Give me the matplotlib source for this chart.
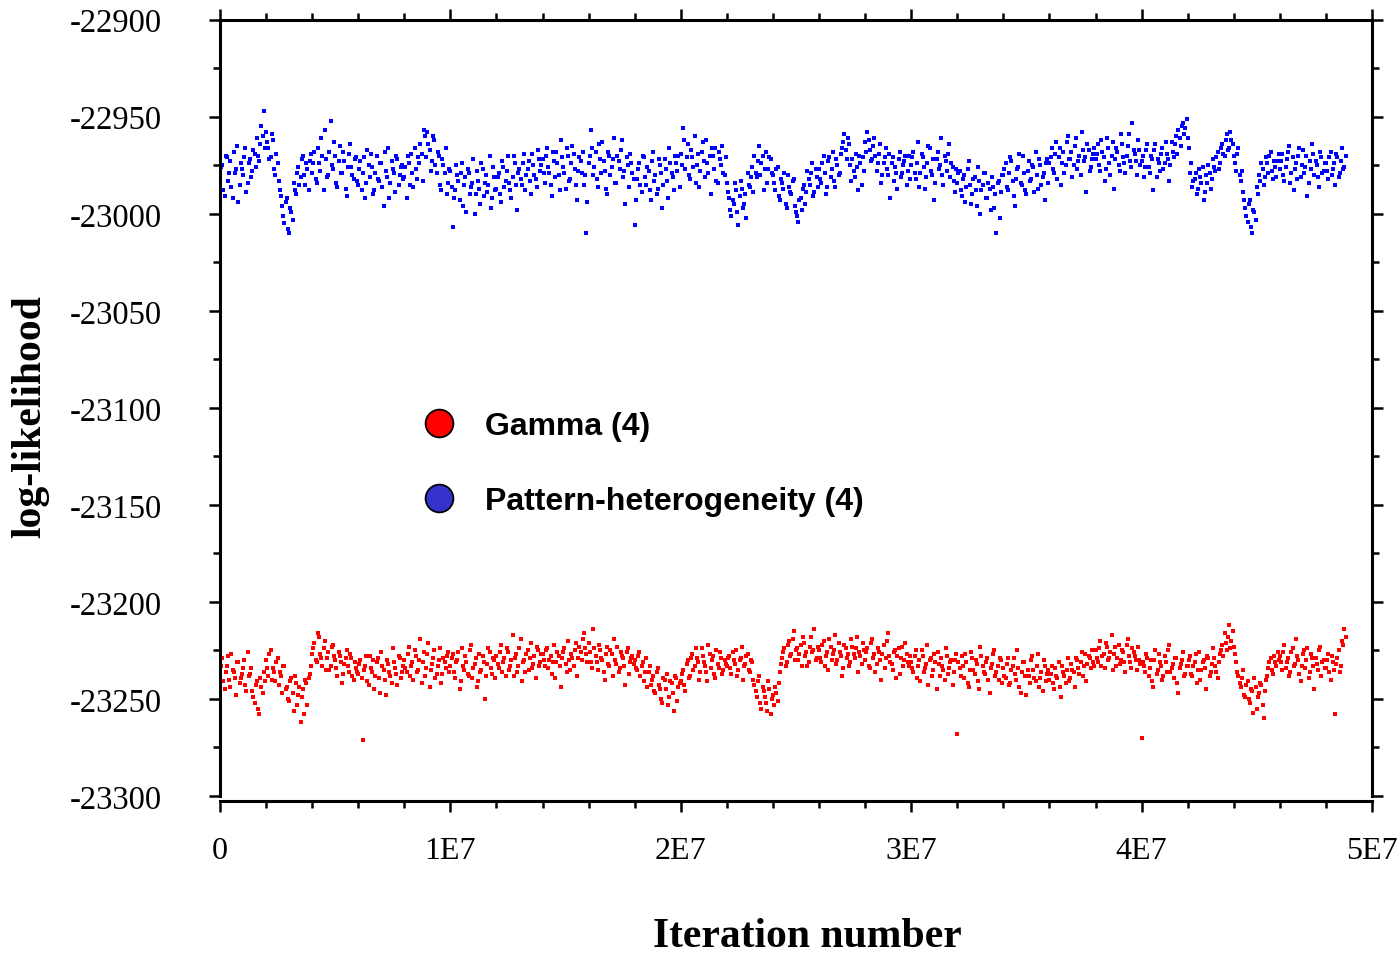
import numpy as np
import matplotlib.pyplot as plt
from matplotlib.lines import Line2D
from matplotlib.ticker import MultipleLocator

# two interleaved sets of samples, each every 1E5 iterations (set b shifted by 5E4),
# values
sample_step = 1e5

# Pattern-heterogeneity (4): distance below -22900
pattern_off_a = [
    82, 75, 91, 71, 79, 86, 68, 77, 94, 74, 80, 66, 84, 72, 78, 69, 61, 73, 55, 47,
    58, 66, 71, 62, 80, 74, 88, 96, 105, 92, 110, 99, 84, 90, 76, 81, 70, 85, 77, 73,
    79, 68, 84, 74, 61, 88, 72, 80, 52, 77, 70, 86, 65, 79, 73, 91, 69, 76, 82, 71,
    85, 73, 79, 92, 67, 81, 76, 88, 70, 83, 74, 96, 78, 66, 84, 77, 89, 72, 80, 75,
    81, 92, 74, 69, 86, 77, 71, 64, 83, 60, 58, 67, 73, 62, 79, 70, 88, 75, 66, 84,
    78, 107, 88, 80, 93, 74, 85, 99, 79, 86, 72, 90, 83, 95, 77, 84, 89, 70, 92, 81,
    87, 79, 94, 76, 83, 70, 88, 81, 74, 98, 77, 85, 69, 80, 73, 90, 75, 82, 67, 78,
    72, 84, 66, 79, 91, 73, 68, 80, 62, 76, 87, 70, 82, 65, 77, 93, 71, 79, 85, 110,
    74, 57, 80, 68, 86, 72, 63, 78, 90, 70, 76, 61, 84, 73, 67, 81, 95, 75, 69, 79,
    106, 82, 74, 89, 71, 85, 78, 93, 68, 80, 87, 75, 97, 72, 83, 66, 79, 88, 74, 70,
    69, 56, 77, 64, 82, 71, 60, 75, 86, 68, 73, 62, 79, 90, 70, 66, 84, 72, 65, 80,
    84, 92, 101, 95, 88, 106, 83, 97, 90, 79, 86, 76, 70, 81, 65, 74, 88, 68, 77, 72,
    80, 88, 76, 93, 84, 79, 97, 86, 90, 82, 99, 104, 92, 87, 95, 78, 85, 74, 89, 81,
    77, 84, 70, 90, 73, 81, 68, 86, 75, 79, 66, 59, 72, 64, 83, 78, 69, 88, 74, 71,
    63, 58, 67, 72, 61, 78, 69, 84, 74, 66, 80, 92, 71, 76, 87, 68, 79, 73, 85, 70,
    75, 68, 82, 63, 79, 71, 87, 74, 66, 80, 93, 72, 77, 61, 85, 73, 69, 81, 76, 89,
    84, 78, 91, 80, 86, 73, 95, 82, 88, 76, 100, 85, 79, 92, 87, 81, 97, 110, 83, 89,
    80, 74, 88, 71, 83, 96, 77, 69, 85, 79, 90, 73, 82, 76, 68, 87, 75, 81, 93, 72,
    74, 66, 79, 63, 71, 85, 68, 75, 60, 72, 81, 65, 77, 70, 58, 73, 89, 67, 76, 69,
    72, 64, 78, 68, 83, 61, 74, 70, 87, 66, 75, 59, 71, 79, 65, 73, 53, 69, 80, 67,
    73, 81, 67, 76, 70, 88, 64, 72, 78, 66, 74, 69, 83, 63, 71, 60, 57, 65, 53, 56,
    61, 79, 86, 82, 90, 77, 84, 93, 80, 75, 87, 72, 78, 68, 74, 64, 70, 59, 66, 62,
    70, 78, 66, 83, 89, 97, 104, 93, 110, 99, 86, 80, 74, 85, 71, 79, 68, 82, 76, 73,
    77, 69, 83, 72, 65, 79, 88, 74, 70, 81, 67, 76, 91, 73, 64, 80, 75, 86, 71, 78,
    74, 82, 68, 77, 85, 71, 79, 66, 76,
]
pattern_off_b = [
    76, 88, 70, 83, 73, 92, 79, 65, 85, 77, 71, 89, 74, 81, 67, 76, 70, 64, 60, 66,
    63, 72, 59, 77, 69, 83, 91, 101, 94, 108, 97, 103, 88, 79, 85, 72, 80, 74, 88, 69,
    74, 82, 66, 78, 70, 57, 81, 68, 75, 63, 84, 73, 79, 68, 87, 76, 64, 80, 72, 83,
    77, 88, 71, 84, 75, 69, 90, 79, 82, 74, 86, 68, 81, 92, 73, 79, 70, 85, 76, 82,
    76, 70, 85, 79, 66, 82, 74, 69, 57, 71, 64, 78, 60, 75, 68, 85, 72, 79, 90, 77,
    86, 92, 75, 83, 79, 96, 81, 77, 90, 84, 100, 78, 87, 74, 91, 80, 85, 97, 76, 88,
    81, 90, 73, 86, 78, 84, 92, 70, 85, 79, 82, 74, 88, 77, 83, 69, 80, 86, 72, 75,
    79, 70, 76, 85, 68, 81, 74, 88, 71, 79, 66, 83, 74, 69, 85, 78, 73, 68, 80, 94,
    70, 66, 76, 82, 64, 79, 73, 87, 68, 80, 72, 84, 70, 77, 62, 78, 71, 86, 74, 82,
    93, 77, 85, 70, 81, 76, 88, 73, 83, 90, 72, 79, 85, 77, 92, 74, 81, 70, 78, 86,
    75, 62, 71, 80, 67, 76, 84, 69, 78, 63, 81, 74, 70, 66, 77, 83, 68, 75, 79, 71,
    89, 98, 93, 84, 99, 91, 87, 95, 102, 85, 81, 89, 79, 73, 80, 70, 77, 84, 71, 79,
    84, 77, 91, 82, 87, 95, 80, 89, 83, 96, 101, 93, 98, 85, 89, 82, 79, 91, 77, 86,
    82, 74, 79, 86, 71, 77, 83, 72, 80, 69, 63, 67, 61, 75, 72, 81, 76, 70, 85, 78,
    68, 62, 73, 65, 70, 74, 64, 80, 71, 77, 69, 74, 83, 79, 72, 81, 75, 70, 78, 82,
    71, 79, 74, 86, 69, 76, 81, 65, 78, 72, 84, 68, 75, 80, 70, 78, 64, 74, 83, 77,
    79, 88, 82, 94, 77, 85, 90, 81, 96, 83, 88, 79, 92, 84, 98, 86, 90, 84, 102, 80,
    77, 86, 79, 73, 91, 82, 76, 84, 70, 88, 78, 83, 75, 89, 80, 72, 85, 79, 74, 84,
    71, 77, 69, 82, 66, 74, 79, 63, 72, 68, 75, 61, 73, 80, 67, 71, 64, 78, 72, 66,
    69, 75, 62, 71, 77, 66, 80, 63, 72, 68, 78, 64, 74, 70, 59, 76, 67, 73, 62, 75,
    70, 76, 64, 79, 72, 67, 81, 74, 69, 77, 63, 72, 75, 68, 64, 69, 61, 55, 59, 51,
    66, 74, 83, 79, 87, 81, 76, 89, 84, 79, 82, 76, 71, 77, 66, 69, 62, 67, 58, 64,
    74, 69, 80, 78, 93, 101, 95, 107, 98, 103, 90, 83, 77, 81, 74, 70, 78, 73, 81, 69,
    73, 80, 76, 68, 84, 71, 77, 82, 66, 75, 79, 70, 84, 77, 69, 73, 81, 68, 79, 74,
    78, 71, 80, 74, 69, 81, 73, 77, 70,
]

# Gamma (4): distance below -23200
gamma_off_a = [
    38, 29, 45, 33, 40, 27, 36, 48, 31, 39, 34, 43, 26, 37, 46, 52, 41, 58, 44, 36,
    30, 38, 25, 34, 41, 29, 36, 47, 33, 44, 51, 39, 56, 42, 48, 62, 45, 40, 53, 37,
    27, 21, 31, 18, 29, 24, 35, 26, 33, 22, 30, 38, 28, 42, 32, 25, 36, 29, 40, 34,
    37, 30, 71, 33, 41, 28, 36, 45, 31, 39, 26, 35, 48, 32, 38, 24, 34, 43, 29, 36,
    30, 36, 23, 33, 40, 28, 35, 19, 31, 38, 27, 44, 32, 25, 37, 30, 42, 29, 34, 26,
    33, 27, 39, 30, 45, 24, 35, 31, 38, 22, 34, 29, 41, 36, 28, 50, 32, 26, 37, 30,
    28, 34, 22, 31, 38, 26, 33, 17, 29, 36, 24, 41, 30, 27, 35, 21, 32, 39, 25, 31,
    27, 33, 24, 30, 37, 22, 31, 28, 44, 26, 32, 20, 35, 29, 25, 38, 23, 30, 16, 27,
    21, 31, 14, 28, 35, 25, 30, 40, 23, 33, 27, 19, 32, 36, 26, 29, 43, 24, 31, 28,
    30, 35, 26, 33, 41, 29, 36, 43, 38, 47, 34, 45, 52, 40, 37, 49, 42, 56, 39, 44,
    41, 35, 46, 30, 38, 27, 33, 29, 40, 24, 31, 36, 22, 34, 28, 39, 32, 26, 37, 30,
    33, 28, 37, 30, 25, 35, 29, 40, 32, 27, 36, 31, 43, 49, 38, 55, 46, 52, 41, 58,
    48, 44, 51, 36, 29, 24, 31, 20, 27, 15, 25, 30, 22, 18, 28, 33, 23, 26, 14, 29,
    25, 31, 20, 28, 35, 23, 27, 17, 30, 26, 38, 22, 29, 33, 19, 27, 24, 36, 28, 21,
    30, 24, 34, 19, 27, 32, 26, 40, 22, 29, 16, 31, 35, 25, 28, 37, 23, 30, 27, 33,
    31, 36, 25, 33, 41, 28, 34, 22, 30, 38, 27, 45, 32, 29, 35, 24, 37, 31, 43, 30,
    68, 34, 28, 39, 31, 44, 26, 35, 30, 41, 23, 33, 37, 29, 47, 32, 25, 36, 40, 30,
    34, 39, 29, 42, 33, 37, 25, 44, 36, 31, 48, 38, 30, 35, 41, 27, 39, 46, 33, 37,
    40, 33, 45, 38, 31, 49, 36, 42, 29, 39, 35, 44, 30, 37, 26, 33, 41, 28, 34, 31,
    25, 31, 20, 28, 34, 23, 29, 17, 27, 33, 22, 30, 26, 36, 19, 31, 24, 28, 35, 30,
    70, 33, 27, 38, 30, 44, 25, 35, 31, 40, 28, 36, 22, 34, 39, 29, 47, 32, 26, 37,
    33, 28, 38, 31, 42, 26, 35, 30, 45, 29, 36, 24, 33, 39, 27, 22, 16, 25, 12, 20,
    23, 31, 38, 44, 35, 49, 41, 52, 46, 39, 55, 47, 43, 60, 40, 34, 29, 37, 31, 26,
    28, 35, 22, 31, 38, 26, 33, 19, 30, 41, 27, 34, 24, 36, 29, 45, 32, 25, 38, 30,
    34, 27, 40, 31, 58, 29, 36, 20, 14,
]
gamma_off_b = [
    33, 41, 36, 28, 44, 35, 39, 31, 42, 37, 30, 46, 38, 34, 49, 43, 55, 39, 47, 41,
    34, 27, 40, 36, 31, 43, 38, 33, 45, 50, 41, 47, 38, 53, 44, 49, 58, 42, 39, 33,
    24, 30, 16, 27, 33, 20, 29, 35, 23, 28, 34, 26, 31, 37, 29, 33, 27, 38, 31, 36,
    32, 39, 35, 28, 43, 34, 30, 38, 29, 47, 33, 40, 30, 36, 42, 31, 37, 28, 39, 33,
    34, 27, 38, 31, 25, 36, 30, 42, 26, 34, 21, 35, 29, 39, 33, 24, 37, 31, 28, 36,
    29, 36, 31, 26, 41, 33, 28, 37, 25, 39, 32, 44, 27, 35, 31, 38, 24, 34, 29, 39,
    32, 26, 36, 29, 24, 35, 30, 38, 27, 33, 19, 31, 36, 25, 29, 34, 28, 23, 33, 27,
    30, 25, 34, 28, 31, 39, 26, 33, 29, 24, 36, 30, 27, 33, 21, 29, 26, 19, 24, 31,
    26, 34, 24, 31, 22, 29, 36, 27, 32, 25, 38, 30, 23, 34, 28, 33, 26, 37, 29, 32,
    34, 28, 38, 31, 36, 44, 33, 40, 46, 36, 43, 50, 39, 45, 53, 41, 47, 38, 51, 42,
    37, 43, 32, 39, 29, 35, 24, 31, 36, 28, 33, 41, 27, 30, 37, 25, 34, 29, 35, 32,
    29, 34, 26, 32, 38, 30, 23, 33, 28, 35, 30, 40, 46, 41, 52, 44, 49, 56, 45, 50,
    53, 47, 42, 32, 26, 33, 22, 28, 19, 30, 24, 27, 33, 21, 26, 31, 18, 25, 30, 23,
    29, 22, 33, 26, 19, 30, 25, 32, 21, 28, 34, 24, 27, 31, 23, 29, 18, 26, 32, 25,
    26, 33, 21, 29, 36, 24, 30, 27, 34, 20, 28, 32, 26, 39, 24, 29, 33, 21, 31, 28,
    34, 28, 39, 30, 25, 36, 32, 43, 29, 35, 31, 26, 38, 33, 40, 28, 34, 30, 36, 27,
    31, 38, 33, 27, 42, 35, 29, 37, 32, 45, 28, 36, 31, 40, 34, 27, 38, 33, 29, 42,
    38, 32, 43, 35, 29, 40, 34, 47, 31, 38, 35, 42, 28, 39, 33, 44, 36, 30, 41, 35,
    37, 42, 34, 39, 44, 33, 38, 35, 41, 32, 36, 29, 34, 31, 38, 27, 32, 29, 25, 33,
    29, 24, 33, 27, 21, 30, 26, 35, 23, 29, 32, 25, 31, 22, 28, 34, 26, 30, 23, 32,
    31, 36, 29, 34, 41, 30, 37, 27, 33, 38, 31, 25, 36, 32, 29, 42, 34, 30, 38, 33,
    30, 37, 33, 27, 35, 40, 31, 34, 28, 38, 32, 29, 36, 31, 25, 28, 21, 18, 24, 15,
    27, 36, 42, 39, 48, 43, 50, 45, 57, 44, 49, 42, 53, 46, 38, 31, 35, 28, 33, 30,
    31, 26, 34, 29, 36, 24, 32, 28, 37, 33, 25, 30, 39, 27, 33, 29, 35, 23, 31, 34,
    30, 36, 28, 35, 32, 25, 33, 22, 18,
]

pattern_ll = -22900 - np.concatenate([pattern_off_a, pattern_off_b])
gamma_ll = -23200 - np.concatenate([gamma_off_a, gamma_off_b])
iters_a = np.arange(len(gamma_off_a)) * sample_step
iters = np.concatenate([iters_a, iters_a + sample_step / 2])

xtick_vals = [0, 1e7, 2e7, 3e7, 4e7, 5e7]
xtick_labels = ['0', '1E7', '2E7', '3E7', '4E7', '5E7']
legend_labels = ['Gamma (4)', 'Pattern-heterogeneity (4)']

plt.rcParams['font.family'] = 'Liberation Serif'
plt.rcParams['axes.unicode_minus'] = False

fig = plt.figure(figsize=(14, 9.54), dpi=100)
ax = fig.add_axes([0.1571, 0.1646, 0.8229, 0.8137])

ax.plot(iters, pattern_ll, 's', ms=2.7, mew=0, color='#0000ff')
ax.plot(iters, gamma_ll, 's', ms=2.7, mew=0, color='#ff0000')

ax.set_xlim(0, 5e7)
ax.set_ylim(-23300, -22900)
ax.set_xticks(xtick_vals, xtick_labels)
ax.xaxis.set_minor_locator(MultipleLocator(2e6))
ax.yaxis.set_major_locator(MultipleLocator(50))
ax.yaxis.set_minor_locator(MultipleLocator(25))

ax.spines['bottom'].set_position(('outward', 3.6))
for sp in ax.spines.values():
    sp.set_linewidth(2.2)
ax.tick_params(which='both', direction='out', top=True, right=True, width=1.8)
ax.tick_params(which='major', length=8)
ax.tick_params(which='minor', length=5)
ax.tick_params(axis='y', which='major', labelsize=23.5, pad=34)
ax.tick_params(axis='x', which='major', labelsize=23, pad=17)

ax.set_ylabel('log-likelihood', fontsize=30, fontweight='bold', va='center')
ax.yaxis.set_label_coords(-0.165, 0.49)
ax.set_xlabel('Iteration number', fontsize=30, fontweight='bold', va='center')
ax.xaxis.set_label_coords(0.51, -0.18)

handles = [
    Line2D([], [], ls='none', marker='o', ms=20, mfc='#ff0000', mec='black', mew=1.3),
    Line2D([], [], ls='none', marker='o', ms=20, mfc='#3333cc', mec='black', mew=1.3),
]
ax.legend(handles, legend_labels, loc='center left', bbox_to_anchor=(0.176, 0.428),
          frameon=False, borderpad=0, borderaxespad=0, handlelength=1.0,
          handletextpad=0.95, labelspacing=1.4,
          prop={'family': 'Liberation Sans', 'weight': 'bold', 'size': 23})

fig.savefig('out.png', dpi=100)
